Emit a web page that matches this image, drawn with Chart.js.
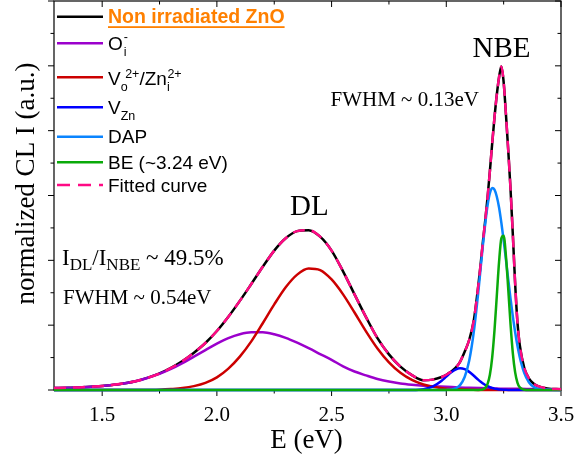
<!DOCTYPE html>
<html>
<head>
<meta charset="utf-8">
<script src="https://cdn.jsdelivr.net/npm/chart.js@4.4.0/dist/chart.umd.min.js"></script>
<style>
html,body{margin:0;padding:0;background:#fff;}
canvas{display:block;}
</style>
</head>
<body>
<canvas id="c" width="575" height="459" style="width:575px;height:459px"></canvas>
<script>
// ---- data ----
const energyBroad = [1.29,1.35,1.40,1.45,1.50,1.55,1.60,1.65,1.70,1.75,1.80,1.85,1.90,1.95,2.00,2.05,2.10,2.15,2.20,2.25,2.30,2.35,2.40,2.45,2.50,2.55,2.60,2.65,2.70,2.75,2.80,2.85,2.90,2.95,3.00,3.05,3.10,3.15,3.20,3.25,3.30,3.35,3.40,3.45,3.50];
const oxygenInterstitial = [.006,.007,.008,.010,.012,.016,.021,.028,.038,.050,.065,.083,.103,.123,.143,.160,.172,.178,.178,.172,.161,.146,.129,.111,.093,.073,.057,.045,.034,.026,.020,.016,.013,.011,.010,.008,.007,.006,.005,.004,.004,.003,.003,.002,.002];
const vacancyOZnI = [0,0,0,0,0,0,0,0,0,.001,.003,.006,.012,.022,.039,.066,.103,.150,.206,.264,.317,.356,.375,.370,.341,.295,.239,.181,.128,.085,.053,.031,.017,.009,.004,.002,.001,0,0,0,0,0,0,0,0];

const energyNarrow = [1.29,2.80,2.85,2.90,2.94,2.98,3.00,3.02,3.04,3.06,3.08,3.10,3.12,3.14,3.15,3.16,3.17,3.18,3.19,3.20,3.21,3.22,3.23,3.24,3.25,3.26,3.27,3.28,3.29,3.30,3.31,3.32,3.34,3.36,3.38,3.40,3.44,3.50];
const vacancyZn = [0,0,.0002,.0025,.0103,.0287,.0413,.0537,.0630,.0670,.0643,.0559,.0439,.0311,.0253,.0200,.0154,.0116,.0085,.0061,.0042,.0029,.0019,.0012,.0008,.0005,.0003,.0002,.0001,0,0,0,0,0,0,0,0,0];
const dapBand = [0,0,0,0,0,0,.0003,.0014,.0049,.015,.040,.091,.180,.306,.378,.450,.515,.570,.607,.623,.618,.597,.563,.516,.462,.402,.341,.282,.227,.179,.137,.102,.052,.024,.010,.0038,.0004,0];
const beBand = [0,0,0,0,0,0,0,0,0,0,0,0,0,.0001,.0005,.002,.0067,.019,.047,.100,.183,.289,.395,.468,.476,.413,.312,.203,.114,.055,.023,.0083,.0007,0,0,0,0,0];

const energyTotal = [1.29,1.35,1.40,1.45,1.50,1.55,1.60,1.65,1.70,1.75,1.80,1.85,1.90,1.95,2.00,2.05,2.10,2.15,2.20,2.25,2.30,2.35,2.40,2.45,2.50,2.55,2.60,2.65,2.70,2.75,2.80,2.85,2.90,2.94,2.98,3.00,3.02,3.04,3.06,3.08,3.10,3.12,3.14,3.15,3.16,3.17,3.18,3.19,3.20,3.21,3.22,3.23,3.24,3.25,3.26,3.27,3.28,3.29,3.30,3.31,3.32,3.34,3.36,3.38,3.40,3.44,3.50];
const measuredZnO = [.006,.007,.008,.010,.012,.016,.021,.028,.038,.051,.068,.089,.115,.145,.182,.226,.275,.327,.380,.430,.468,.490,.493,.473,.430,.366,.295,.225,.160,.110,.072,.046,.030,.032,.040,.047,.056,.068,.087,.118,.155,.215,.325,.390,.460,.525,.595,.675,.760,.840,.910,.965,.998,.950,.850,.740,.620,.480,.330,.210,.140,.068,.036,.020,.012,.005,.002];
const fittedCurve = [.006,.007,.008,.010,.012,.016,.021,.028,.038,.051,.068,.089,.115,.145,.182,.226,.275,.327,.380,.430,.468,.490,.493,.473,.430,.366,.295,.225,.160,.110,.072,.046,.030,.032,.040,.047,.056,.068,.087,.118,.155,.215,.325,.390,.460,.525,.595,.675,.760,.840,.910,.965,.998,.950,.850,.740,.620,.480,.330,.210,.140,.068,.036,.020,.012,.005,.002];

const xTickValues = [1.5,2.0,2.5,3.0,3.5];
const xMinorTicks = [1.75,2.25,2.75,3.25];
const yMajorTicks = [0,0.2,0.4,0.6,0.8,1.0,1.2];
const yMinorTicks = [0.1,0.3,0.5,0.7,0.9,1.1];

// ---- styling ----
const COL = {
  meas:'#000000', oi:'#9B00CC', vo:'#CC0000', vzn:'#0000FF',
  dap:'#0A84FF', be:'#0AAA0A', fit:'#FF0A84', title:'#FF8000'
};
const SERIF = '"Liberation Serif", "Times New Roman", serif';
const SANS = '"Liberation Sans", Arial, sans-serif';

const pts = (xs, ys) => xs.map((e, i) => ({x: e, y: ys[i]}));
const base = {pointRadius:0, borderWidth:2.5, fill:false, cubicInterpolationMode:'monotone', clip:false};

const decor = {
  id:'decor',
  beforeDatasetsDraw(chart){
    const {ctx, chartArea:a, scales:{x, y}} = chart;
    ctx.save();
    ctx.strokeStyle = '#000';
    ctx.lineWidth = 1.2;
    ctx.strokeRect(a.left, a.top, a.right - a.left, a.bottom - a.top);
    ctx.lineWidth = 1;
    const seg = (x1, y1, x2, y2) => { ctx.beginPath(); ctx.moveTo(x1, y1); ctx.lineTo(x2, y2); ctx.stroke(); };
    const M = 6, m = 3.5;
    xTickValues.forEach(v => { const p = x.getPixelForValue(v); seg(p, a.bottom, p, a.bottom + M); seg(p, a.top, p, a.top + M); });
    xMinorTicks.forEach(v => { const p = x.getPixelForValue(v); seg(p, a.bottom, p, a.bottom + m); seg(p, a.top, p, a.top + m); });
    yMajorTicks.forEach(v => { const p = y.getPixelForValue(v); seg(a.left - M, p, a.left, p); seg(a.right - M, p, a.right, p); });
    yMinorTicks.forEach(v => { const p = y.getPixelForValue(v); seg(a.left - m, p, a.left, p); seg(a.right - m, p, a.right, p); });
    ctx.restore();
  },
  afterDraw(chart){
    const ctx = chart.ctx;
    ctx.save();
    ctx.textBaseline = 'alphabetic';
    const T = (s, x, yb, font, color, align) => {
      ctx.font = font; ctx.fillStyle = color || '#000'; ctx.textAlign = align || 'left';
      ctx.fillText(s, x, yb); return ctx.measureText(s).width;
    };
    // axis titles
    T('E (eV)', 306.5, 448, '27px ' + SERIF, '#000', 'center');
    ctx.save();
    ctx.translate(33.5, 183.5);
    ctx.rotate(-Math.PI / 2);
    T('normalized CL I (a.u.)', 0, 0, '27px ' + SERIF, '#000', 'center');
    ctx.restore();

    // annotations
    T('NBE', 472.5, 56.5, '29px ' + SERIF);
    T('FWHM ~ 0.13eV', 330.5, 106, '21px ' + SERIF);
    T('DL', 290, 215, '29px ' + SERIF);
    let xx = 62;
    xx += T('I', xx, 265, '23px ' + SERIF);
    xx += T('DL', xx, 270, '17px ' + SERIF);
    xx += T('/I', xx, 265, '23px ' + SERIF);
    xx += T('NBE', xx, 270, '17px ' + SERIF);
    T(' ~ 49.5%', xx, 265, '23px ' + SERIF);
    T('FWHM ~ 0.54eV', 63, 304, '21px ' + SERIF);

    // legend
    const sample = (yy, color, dash) => {
      ctx.save(); ctx.strokeStyle = color; ctx.lineWidth = 2.5; ctx.setLineDash(dash || []);
      ctx.beginPath(); ctx.moveTo(57, yy); ctx.lineTo(103, yy); ctx.stroke(); ctx.restore();
    };
    const F = '19px ' + SANS, S = '12.5px ' + SANS;
    sample(16.7, COL.meas);
    const w1 = T('Non irradiated ZnO', 108, 23.3, 'bold 19.5px ' + SANS, COL.title);
    ctx.fillStyle = COL.title; ctx.fillRect(108, 26.2, w1, 1.8);

    sample(43.3, COL.oi);
    let lx = 108 + T('O', 108, 50, F);
    T('i', lx + 1, 56, S); T('-', lx + 1, 41, S);

    sample(77.3, COL.vo);
    lx = 108 + T('V', 108, 85, F);
    T('o', lx, 90.5, S);
    lx = lx + 4.5 + T('2+', lx + 4.5, 77.5, S);
    lx += T('/Zn', lx, 85, F);
    T('i', lx, 91, S);
    T('2+', lx + 0.5, 77.5, S);

    sample(107.3, COL.vzn);
    lx = 108 + T('V', 108, 113.5, F);
    T('Zn', lx, 120, S);

    sample(136.7, COL.dap);
    T('DAP', 108, 143.3, F);

    sample(162.3, COL.be);
    T('BE (~3.24 eV)', 108, 168.5, F);

    sample(185, COL.fit, [13, 8]);
    T('Fitted curve', 108, 191.5, F);
    ctx.restore();
  }
};

new Chart(document.getElementById('c'), {
  type:'line',
  data:{
    datasets:[
      Object.assign({label:'Fitted curve', data:pts(energyTotal, fittedCurve), borderColor:COL.fit, borderDash:[12,7]}, base),
      Object.assign({label:'BE (~3.24 eV)', data:pts(energyNarrow, beBand), borderColor:COL.be}, base),
      Object.assign({label:'DAP', data:pts(energyNarrow, dapBand), borderColor:COL.dap}, base),
      Object.assign({label:'VZn', data:pts(energyNarrow, vacancyZn), borderColor:COL.vzn}, base),
      Object.assign({label:'Vo2+/Zni2+', data:pts(energyBroad, vacancyOZnI), borderColor:COL.vo}, base),
      Object.assign({label:'Oi-', data:pts(energyBroad, oxygenInterstitial), borderColor:COL.oi}, base),
      Object.assign({label:'Non irradiated ZnO', data:pts(energyTotal, measuredZnO), borderColor:COL.meas}, base)
    ]
  },
  options:{
    responsive:false, animation:false, devicePixelRatio:1, events:[],
    layout:{padding:{top:1, right:14, left:0, bottom:0}},
    plugins:{legend:{display:false}, tooltip:{enabled:false}},
    scales:{
      x:{
        type:'linear', min:1.29, max:3.5, position:'bottom',
        grid:{display:false, drawTicks:false}, border:{display:false},
        afterBuildTicks:s => { s.ticks = xTickValues.map(v => ({value:v})); },
        afterFit:s => { s.height = 69; s.paddingLeft = 0; s.paddingRight = 0; },
        ticks:{autoSkip:false, maxRotation:0, minRotation:0, padding:13, color:'#000',
               font:{family:SERIF, size:21}, callback:v => Number(v).toFixed(1)}
      },
      y:{
        type:'linear', min:0, max:1.2,
        grid:{display:false, drawTicks:false}, border:{display:false},
        ticks:{display:false},
        afterFit:s => { s.width = 54; s.paddingTop = 0; s.paddingBottom = 0; }
      }
    }
  },
  plugins:[decor]
});
</script>
</body>
</html>
